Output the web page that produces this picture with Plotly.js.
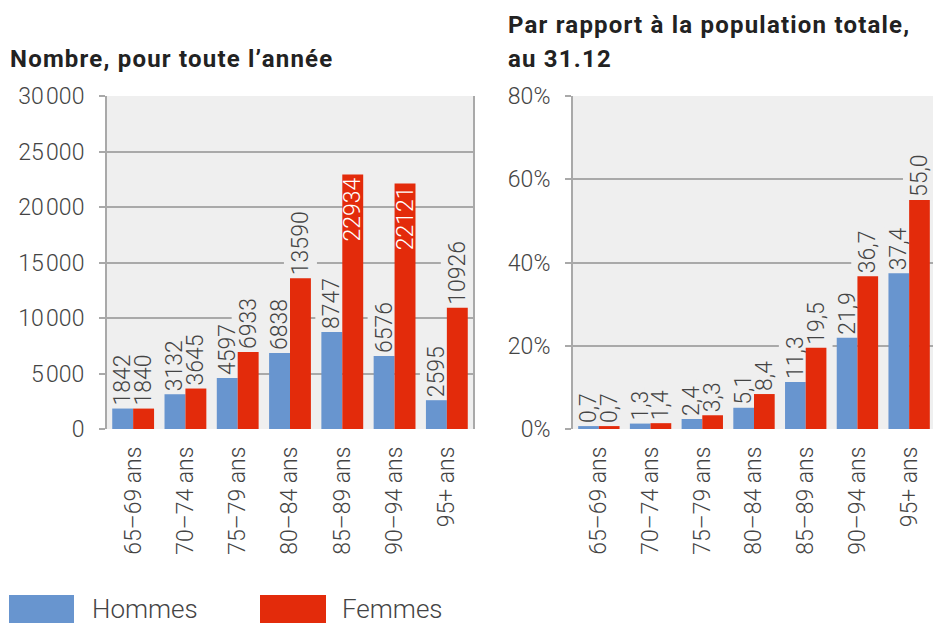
<!DOCTYPE html>
<html>
<head>
<meta charset="utf-8">
<script src="https://cdn.plot.ly/plotly-3.0.1.min.js"></script>
<style>
html,body{margin:0;padding:0;overflow:hidden;background:#fff;}
#chart{width:940px;height:623px;}
</style>
</head>
<body>
<div id="chart"></div>
<script>
// ---- data ----
const categories = ["65–69 ans","70–74 ans","75–79 ans","80–84 ans","85–89 ans","90–94 ans","95+ ans"];
const hommesNombre = [1842, 3132, 4597, 6838, 8747, 6576, 2595];
const femmesNombre = [1840, 3645, 6933, 13590, 22934, 22121, 10926];
const hommesPct = [0.7, 1.3, 2.4, 5.1, 11.3, 21.9, 37.4];
const femmesPct = [0.7, 1.4, 3.3, 8.4, 19.5, 36.7, 55.0];
const seriesNames = ["Hommes", "Femmes"];
const leftTitle = "Nombre, pour toute l’année";
const rightTitleLines = ["Par rapport à la population totale,", "au 31.12"];

// ---- style ----
const BLUE = "#6895cf";
const RED = "#e32b0b";
const FONT = "Roboto, 'Open Sans', sans-serif";
const LBL = "#444444";
const GRID = "#a9a9a9";
const PLOTBG = "#efefef";
const FS = 23;
const LIGHT = 300;
const W = 940, H = 623;

function fmtPct(v){ return v.toFixed(1).replace('.', ','); }
function insideIf(vals, lim){ return vals.map(v => v > lim ? 'inside' : 'outside'); }

function barTrace(name, y, color, xa, ya, texts, lim){
  return {
    type: 'bar', name: name, x: categories, y: y,
    xaxis: xa, yaxis: ya,
    marker: {color: color, line: {width: 0}},
    text: texts,
    textposition: insideIf(y, lim),
    insidetextanchor: 'end',
    textangle: -90,
    constraintext: 'none',
    cliponaxis: false,
    textfont: {family: FONT, size: FS, color: LBL, weight: LIGHT},
    insidetextfont: {family: FONT, size: FS, color: '#ffffff', weight: LIGHT},
    outsidetextfont: {family: FONT, size: FS, color: LBL, weight: LIGHT},
    showlegend: false,
    hoverinfo: 'x+y'
  };
}

const traces = [
  barTrace(seriesNames[0], hommesNombre, BLUE, 'x', 'y', hommesNombre.map(String), 20000),
  barTrace(seriesNames[1], femmesNombre, RED, 'x', 'y', femmesNombre.map(String), 20000),
  barTrace(seriesNames[0], hommesPct, BLUE, 'x2', 'y2', hommesPct.map(fmtPct), 1000),
  barTrace(seriesNames[1], femmesPct, RED, 'x2', 'y2', femmesPct.map(fmtPct), 1000)
];

const yDom = [1 - 429/H, 1 - 96/H];
const xaxisCommon = {
  type: 'category', tickangle: -90, ticks: '', showgrid: false,
  showline: false, zeroline: false,
  tickfont: {family: FONT, size: FS, color: LBL, weight: LIGHT},
  ticklabelstandoff: 12, fixedrange: true
};
const yaxisCommon = {
  showgrid: true, gridcolor: GRID, gridwidth: 2,
  showline: true, linecolor: GRID, linewidth: 2,
  zeroline: false, ticks: 'outside', ticklen: 6, tickwidth: 2, tickcolor: GRID,
  tickfont: {family: FONT, size: FS, color: LBL, weight: LIGHT},
  ticklabelstandoff: 10, fixedrange: true
};

const titleFont = {family: FONT, size: 24, color: '#222222', weight: 700};

const layout = {
  width: W, height: H,
  margin: {l: 0, r: 0, t: 0, b: 0},
  paper_bgcolor: '#ffffff', plot_bgcolor: PLOTBG,
  separators: ',\u200A',
  barmode: 'group', bargap: 0.2, bargroupgap: 0,
  font: {family: FONT, color: LBL},
  xaxis: Object.assign({}, xaxisCommon, {domain: [107/W, 473/W], anchor: 'y'}),
  yaxis: Object.assign({}, yaxisCommon, {domain: yDom, range: [0, 30000], dtick: 5000, tickformat: ',d', mirror: true, anchor: 'x'}),
  xaxis2: Object.assign({}, xaxisCommon, {domain: [573/W, 935/W], anchor: 'y2'}),
  yaxis2: Object.assign({}, yaxisCommon, {domain: yDom, range: [0, 80], dtick: 20, ticksuffix: '%', mirror: true, anchor: 'x2'}),
  annotations: [
    {xref: 'paper', yref: 'paper', x: 8/W, y: 1 - 59/H, xanchor: 'left', yanchor: 'middle', showarrow: false,
     text: leftTitle, font: titleFont, align: 'left'},
    {xref: 'paper', yref: 'paper', x: 506/W, y: 1 - 25/H, xanchor: 'left', yanchor: 'middle', showarrow: false,
     text: rightTitleLines[0], font: titleFont, align: 'left'},
    {xref: 'paper', yref: 'paper', x: 506/W, y: 1 - 59/H, xanchor: 'left', yanchor: 'middle', showarrow: false,
     text: rightTitleLines[1], font: titleFont, align: 'left'},
    {xref: 'paper', yref: 'paper', x: 90/W, y: 1 - 609/H, xanchor: 'left', yanchor: 'middle', showarrow: false,
     text: seriesNames[0], font: {family: FONT, size: 26, color: LBL, weight: LIGHT}},
    {xref: 'paper', yref: 'paper', x: 340/W, y: 1 - 609/H, xanchor: 'left', yanchor: 'middle', showarrow: false,
     text: seriesNames[1], font: {family: FONT, size: 26, color: LBL, weight: LIGHT}}
  ],
  shapes: [
    {type: 'rect', xref: 'paper', yref: 'paper', x0: 9/W, x1: 74/W, y0: 0, y1: 1 - 595/H, fillcolor: BLUE, line: {width: 0}},
    {type: 'rect', xref: 'paper', yref: 'paper', x0: 260/W, x1: 326/W, y0: 0, y1: 1 - 595/H, fillcolor: RED, line: {width: 0}}
  ]
};

Plotly.newPlot('chart', traces, layout, {staticPlot: true, displayModeBar: false}).then(function(gd){
  // title tracking, as in the reference typography
  const anns = gd.querySelectorAll('.annotation');
  [0, 1, 2].forEach(function(i){
    if (anns[i]) anns[i].querySelectorAll('text').forEach(function(t){ t.style.letterSpacing = '1.2px'; });
  });
  // break gridlines behind outside value labels (drawn under the bars)
  const NS = 'http://www.w3.org/2000/svg';
  const gridLayers = gd.querySelectorAll('.gridlayer');
  const subplots = gd.querySelectorAll('.cartesianlayer .subplot');
  subplots.forEach(function(sp){
    const grid = sp.querySelector('.gridlayer') || gridLayers[0];
    if (!grid) return;
    const inv = grid.getScreenCTM().inverse();
    sp.querySelectorAll('.bartext').forEach(function(t){
      const fill = (t.style.fill || t.getAttribute('fill') || '').replace(/\s/g, '');
      if (fill === 'rgb(255,255,255)' || fill === '#ffffff') return;
      const r = t.getBoundingClientRect();
      const pad = 3;
      const p1 = new DOMPoint(r.left - pad, r.top - pad).matrixTransform(inv);
      const p2 = new DOMPoint(r.right + pad, r.bottom + pad).matrixTransform(inv);
      const rect = document.createElementNS(NS, 'rect');
      rect.setAttribute('x', Math.min(p1.x, p2.x));
      rect.setAttribute('y', Math.min(p1.y, p2.y));
      rect.setAttribute('width', Math.abs(p2.x - p1.x));
      rect.setAttribute('height', Math.abs(p2.y - p1.y));
      rect.setAttribute('fill', PLOTBG);
      grid.appendChild(rect);
    });
  });
});
</script>
</body>
</html>
